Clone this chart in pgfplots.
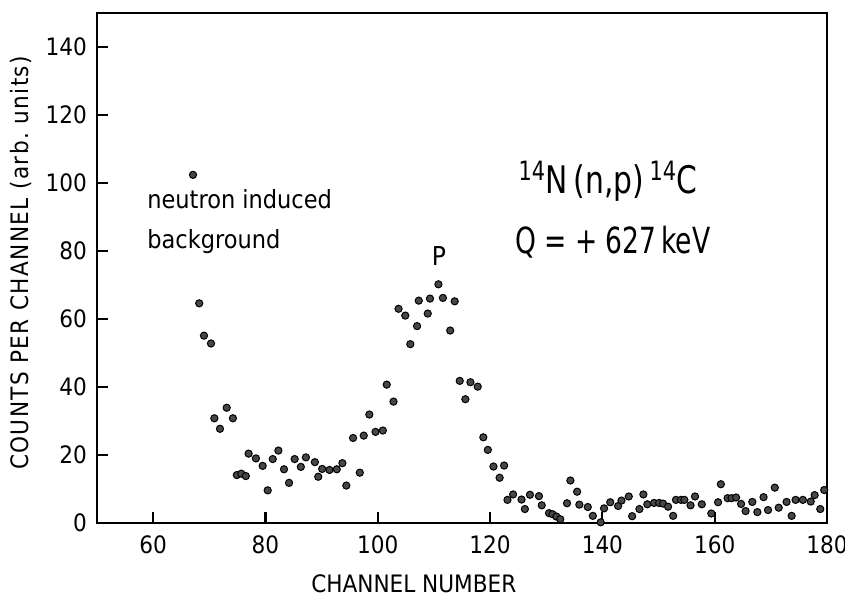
\documentclass[border=0pt]{standalone}
\usepackage{fontspec}
\setmainfont{DejaVu Sans Condensed}
\newfontfamily\ylabfont[LetterSpace=6]{DejaVu Sans Condensed}
\usepackage{graphicx}
\usepackage{pgfplots}
\pgfplotsset{compat=1.18}
\begin{document}
\begin{tikzpicture}
\begin{axis}[
  name=ax,
  scale only axis,
  width=365pt, height=255pt,
  xmin=50, xmax=180, ymin=0, ymax=150,
  xtick={60,80,...,180},
  ytick={0,20,...,140},
  axis line style={line width=0.9pt},
  tick style={line width=1.1pt, black},
  major tick length=5.5pt,
  tick align=inside,
  xtick pos=bottom, ytick pos=left,
  /pgf/number format/assume math mode=true,
  ticklabel style={font=\fontsize{12}{14}\selectfont},
  xticklabel style={yshift=-3pt},
  yticklabel style={xshift=-1.5pt},
  xlabel={CHANNEL NUMBER},
  ylabel={\ylabfont COUNTS PER CHANNEL (arb.\ units)},
  label style={font=\fontsize{12}{14}\selectfont},
  xlabel style={at={(axis description cs:0.434,-0.12)}, anchor=center},
  ylabel style={at={(axis description cs:-0.104,0.51)}, anchor=center},
  clip=false,
]
\addplot[only marks, mark=*, mark size=1.8pt, mark options={fill=black!72, draw=black, line width=0.5pt}] coordinates {
(67.1,102.4) (68.2,64.6) (69.05,55.1) (70.3,52.8) (70.9,30.8) (71.9,27.7)
(73.1,33.9) (74.2,30.8) (74.9,14.1) (75.7,14.5) (76.5,13.8) (77.0,20.4)
(78.3,19.0) (79.5,16.8) (80.4,9.6) (81.3,18.8) (82.3,21.3) (83.3,15.8)
(84.2,11.8) (85.2,18.8) (86.3,16.5) (87.2,19.3) (88.8,17.9) (89.4,13.6)
(90.1,15.9) (91.4,15.6) (92.7,15.8) (93.7,17.6) (94.4,11.0) (95.6,25.0)
(96.8,14.8) (97.5,25.7) (98.5,31.9) (99.6,26.8) (100.9,27.2) (101.6,40.7)
(102.8,35.7) (103.7,63.0) (104.9,61.0) (105.8,52.6) (107.0,57.9) (107.3,65.4)
(108.9,61.6) (109.3,66.0) (110.8,70.2) (111.6,66.2) (112.9,56.6) (113.7,65.2)
(114.6,41.8) (115.6,36.4) (116.5,41.4) (117.8,40.1) (118.8,25.2) (119.6,21.5)
(120.6,16.6) (121.7,13.3) (122.5,16.9) (123.1,6.8) (124.1,8.4) (125.6,6.9)
(126.2,4.1) (127.1,8.3) (128.7,7.9) (129.2,5.2) (130.5,2.9) (131.1,2.6)
(131.8,1.9) (132.5,1.1) (133.7,5.8) (134.3,12.5) (135.5,9.2) (135.9,5.4)
(137.4,4.7) (138.3,2.1) (139.7,0.2) (140.3,4.3) (141.4,6.1) (142.8,5.0)
(143.4,6.6) (144.7,7.8) (145.3,2.0) (146.6,4.1) (147.3,8.4) (148.0,5.5)
(149.2,5.9) (150.1,5.9) (150.8,5.7) (151.7,4.8) (152.6,2.1) (153.1,6.8)
(154.0,6.8) (154.6,6.8) (155.7,5.2) (156.5,7.8) (157.7,5.5) (159.4,2.8)
(160.6,6.1) (161.1,11.4) (162.3,7.3) (163.0,7.3) (163.8,7.5) (164.7,5.6)
(165.5,3.5) (166.7,6.2) (167.6,3.2) (168.7,7.6) (169.5,3.8) (170.7,10.4)
(171.4,4.5) (172.8,6.2) (173.7,2.1) (174.4,6.8) (175.7,6.8) (177.1,6.3)
(177.8,8.2) (178.8,4.1) (179.5,9.7)
};
\node[anchor=base west, inner sep=0pt, font=\fontsize{12.5}{14}\selectfont] at (axis cs:58.9,92.6) {neutron induced};
\node[anchor=base west, inner sep=0pt, font=\fontsize{12.5}{14}\selectfont] at (axis cs:58.9,80.6) {background};
\node[anchor=center, inner sep=0pt, font=\fontsize{13}{14}\selectfont] at (axis cs:110.9,78.5) {P};
\node[anchor=base west, inner sep=0pt, font=\fontsize{19}{22}\selectfont] at (axis cs:125,97) {\scalebox{0.87}[1]{\textsuperscript{14}N\,(n,p)\,\textsuperscript{14}C}};
\node[anchor=base west, inner sep=0pt, font=\fontsize{18}{22}\selectfont] at (axis cs:124.4,79.4) {\scalebox{0.82}[1]{Q = + 627\,keV}};
\end{axis}
\pgfresetboundingbox
\path[use as bounding box] ([xshift=-48.5pt,yshift=-37pt]ax.south west) rectangle ([xshift=9pt,yshift=6.5pt]ax.north east);
\end{tikzpicture}
\end{document}
